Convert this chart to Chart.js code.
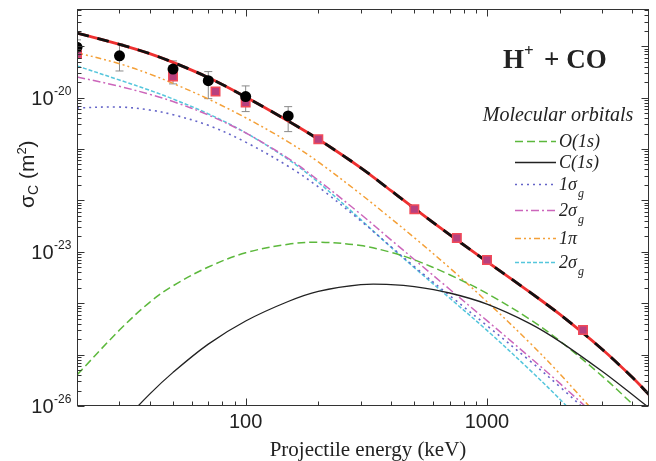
<!DOCTYPE html>
<html>
<head>
<meta charset="utf-8">
<script src="https://cdn.jsdelivr.net/npm/chart.js@4.4.0/dist/chart.umd.min.js"></script>
<style>
  html, body { margin: 0; padding: 0; background: #fff; }
</style>
</head>
<body>
<canvas id="chart" width="656" height="461"></canvas>
<script>
const energies = [20, 30, 40, 50, 70, 100, 150, 200, 300, 400, 500, 700, 1000, 1500, 2000, 3000, 4000, 4700];

const totalCS = [1.80e-19, 1.09e-19, 7.18e-20, 4.86e-20, 2.46e-20, 1.03e-20, 3.51e-21, 1.55e-21, 4.31e-22, 1.55e-22, 6.98e-23, 2.16e-23, 6.44e-24, 1.66e-24, 6.11e-25, 1.27e-25, 3.61e-26, 1.65e-26];
const o1s = [4.03e-26, 3.0e-25, 1.04e-24, 2.18e-24, 5.06e-24, 9.57e-24, 1.40e-23, 1.54e-23, 1.32e-23, 9.77e-24, 6.98e-24, 3.58e-24, 1.55e-24, 4.93e-25, 1.86e-25, 3.82e-26, 1.10e-26, 5.25e-27];
const c1s = [4.53e-28, 4.08e-27, 1.70e-26, 4.51e-26, 1.60e-25, 4.51e-25, 1.08e-24, 1.70e-24, 2.30e-24, 2.30e-24, 2.11e-24, 1.58e-24, 9.6e-25, 4.06e-25, 1.81e-25, 4.73e-26, 1.67e-26, 9.2e-27];
const s1g = [6.3e-21, 6.56e-21, 5.74e-21, 4.65e-21, 2.89e-21, 1.36e-21, 4.62e-22, 1.83e-22, 3.99e-23, 1.26e-23, 5.15e-24, 1.41e-24, 3.66e-25, 7.67e-26, 2.39e-26, 4.29e-27, null, null];
const s2g = [2.53e-20, 1.66e-20, 1.16e-20, 8.4e-21, 4.59e-21, 2.06e-21, 6.59e-22, 2.46e-22, 5.37e-23, 1.71e-23, 7.08e-24, 1.87e-24, 4.57e-25, 9.02e-26, 2.78e-26, 4.97e-27, null, null];
const pi1 = [7.5e-20, 4.57e-20, 2.88e-20, 1.89e-20, 9.4e-21, 4.06e-21, 1.38e-21, 5.6e-22, 1.32e-22, 4.45e-23, 1.88e-23, 4.89e-24, 1.07e-24, 1.72e-25, 4.27e-26, 5.2e-27, null, null];
const s2gb = [4.14e-20, 2.2e-20, 1.39e-20, 9.4e-21, 4.84e-21, 2.07e-21, 6.28e-22, 2.25e-22, 4.22e-23, 1.23e-23, 4.91e-24, 1.26e-24, 2.96e-25, 5.1e-26, 1.37e-26, 1.85e-27, null, null];

// measurements
const expEnergy = [20, 30, 50, 70, 100, 150];
const expSigma = [9.6e-20, 6.5e-20, 3.6e-20, 2.14e-20, 1.05e-20, 4.4e-21];
const expLow = [6.8e-20, 3.3e-20, 1.85e-20, 9.56e-21, 5.35e-21, 2.18e-21];
const expHigh = [1.33e-19, 1.11e-19, 5.18e-20, 3.21e-20, 1.69e-20, 6.68e-21];
const refEnergy = [20, 50, 75, 100, 200, 500, 750, 1000, 2500];
const refSigma = [7.08e-20, 2.57e-20, 1.31e-20, 8.0e-21, 1.55e-21, 6.74e-23, 1.86e-23, 6.95e-24, 3.02e-25];

const xTickLabels = [100, 1000];
const yTickExps = [-20, -23, -26];

const SANS = '"Liberation Sans", Arial, sans-serif';
const SERIF = '"Liberation Serif", "Times New Roman", serif';

function pts(xs, ys) {
  const out = [];
  xs.forEach((e, i) => { if (ys[i] != null) out.push({ x: e, y: ys[i] }); });
  return out;
}

function curve(key, data, color, dash, width, order) {
  return {
    key, data: pts(energies, data), borderColor: color, borderDash: dash,
    borderWidth: width, pointRadius: 0, fill: false, order, tension: 0.35
  };
}

const legendRows = [
  { key: 'o1s', text: 'O(1s)' },
  { key: 'c1s', text: 'C(1s)' },
  { key: 's1g', text: '1σ', sub: 'g' },
  { key: 's2g', text: '2σ', sub: 'g' },
  { key: 'pi1', text: '1π' },
  { key: 's2gb', text: '2σ', sub: 'g' }
];

const frame = {
  id: 'frame',
  beforeDatasetsDraw(chart) {
    const { ctx, chartArea: a, scales: { x, y } } = chart;
    ctx.save();
    ctx.beginPath();
    ctx.rect(a.left, a.top, a.right - a.left, a.bottom - a.top);
    ctx.clip();
    ctx.strokeStyle = '#8a8a8a';
    ctx.lineWidth = 1;
    expEnergy.forEach((e, i) => {
      const px = x.getPixelForValue(e);
      const y1 = y.getPixelForValue(expLow[i]);
      const y2 = y.getPixelForValue(expHigh[i]);
      ctx.beginPath();
      ctx.moveTo(px, y1); ctx.lineTo(px, y2);
      ctx.moveTo(px - 4, y1); ctx.lineTo(px + 4, y1);
      ctx.moveTo(px - 4, y2); ctx.lineTo(px + 4, y2);
      ctx.stroke();
    });
    ctx.restore();
  },
  afterDraw(chart) {
    const { ctx, chartArea: a, scales: { x, y } } = chart;
    const L = Math.round(a.left) + 0.5, R = Math.round(a.right) - 0.5;
    const T = Math.round(a.top) + 0.5, B = Math.round(a.bottom) - 0.5;
    ctx.save();
    ctx.strokeStyle = '#333';
    ctx.lineWidth = 1;
    ctx.strokeRect(L, T, R - L, B - T);
    ctx.beginPath();
    for (let k = 1; k <= 4; k++) {
      for (let m = 1; m <= 9; m++) {
        const v = m * Math.pow(10, k);
        if (v < x.min || v > x.max) continue;
        const px = Math.round(x.getPixelForValue(v)) + 0.5;
        const len = m === 1 ? 7 : 4;
        ctx.moveTo(px, B); ctx.lineTo(px, B - len);
        ctx.moveTo(px, T); ctx.lineTo(px, T + len);
      }
    }
    for (let k = -27; k <= -18; k++) {
      for (let m = 1; m <= 9; m++) {
        const v = m * Math.pow(10, k);
        if (v < y.min * 0.999 || v > y.max) continue;
        const py = Math.round(y.getPixelForValue(v)) + 0.5;
        const len = m === 1 ? 7 : 4;
        ctx.moveTo(L, py); ctx.lineTo(L + len, py);
        ctx.moveTo(R, py); ctx.lineTo(R - len, py);
      }
    }
    ctx.stroke();

    // tick labels
    ctx.fillStyle = '#222';
    ctx.font = '20px ' + SANS;
    ctx.textAlign = 'center';
    ctx.textBaseline = 'alphabetic';
    xTickLabels.forEach(v => ctx.fillText(String(v), x.getPixelForValue(v), 428));
    yTickExps.forEach(e => {
      const py = y.getPixelForValue(Math.pow(10, e));
      ctx.font = '20px ' + SANS;
      ctx.textAlign = 'right';
      ctx.fillText('10', 53.5, py + 7);
      ctx.font = '12px ' + SANS;
      ctx.textAlign = 'left';
      ctx.fillText('-' + Math.abs(e), 54, py - 3);
    });

    // axis titles
    ctx.font = '21px ' + SERIF;
    ctx.textAlign = 'center';
    ctx.fillText('Projectile energy (keV)', 368, 456);

    ctx.save();
    ctx.translate(34, 208);
    ctx.rotate(-Math.PI / 2);
    ctx.textAlign = 'left';
    let cx = 0;
    const put = (t, size, dy) => {
      ctx.font = size + 'px ' + SANS;
      ctx.fillText(t, cx, dy);
      cx += ctx.measureText(t).width;
    };
    put('σ', 21, 0);
    put('C', 14, 4);
    put(' (m', 21, 0);
    put('2', 13, -8);
    put(')', 21, 0);
    ctx.restore();

    // reaction label
    ctx.textAlign = 'left';
    ctx.font = 'bold 27px ' + SERIF;
    ctx.fillText('H', 503, 68);
    ctx.font = 'bold 17px ' + SERIF;
    ctx.fillText('+', 524, 56);
    ctx.font = 'bold 27px ' + SERIF;
    ctx.fillText('+ CO', 544, 68);

    // legend
    ctx.font = 'italic 20px ' + SERIF;
    ctx.textAlign = 'center';
    ctx.fillText('Molecular orbitals', 558, 121);
    const rowY = [141, 162, 184, 210, 238, 262];
    legendRows.forEach((r, i) => {
      const ds = chart.data.datasets.find(d => d.key === r.key);
      const ly = rowY[i] + 0.5;
      ctx.save();
      ctx.strokeStyle = ds.borderColor;
      ctx.lineWidth = ds.borderWidth;
      ctx.setLineDash(ds.borderDash || []);
      ctx.beginPath();
      ctx.moveTo(515, ly); ctx.lineTo(556, ly);
      ctx.stroke();
      ctx.restore();
      ctx.textAlign = 'left';
      ctx.font = 'italic 18px ' + SERIF;
      ctx.fillText(r.text, 559, rowY[i] + 6);
      if (r.sub) {
        const w = ctx.measureText(r.text).width;
        ctx.font = 'italic 12px ' + SERIF;
        ctx.fillText(r.sub, 559 + w + 1, rowY[i] + 13);
      }
    });
    ctx.restore();
  }
};

new Chart(document.getElementById('chart'), {
  type: 'line',
  data: {
    datasets: [
      {
        key: 'exp', data: pts(expEnergy, expSigma), showLine: false,
        pointStyle: 'circle', pointRadius: 5.5, pointBackgroundColor: '#000',
        pointBorderWidth: 0, order: 0
      },
      {
        key: 'ref', data: pts(refEnergy, refSigma), showLine: false,
        pointStyle: 'rect', pointRadius: 6, pointBackgroundColor: '#b8407e',
        pointBorderColor: '#f24a58', pointBorderWidth: 1.5, order: 1
      },
      curve('totalBlack', totalCS, '#111', [12, 9], 2.8, 2),
      curve('totalRed', totalCS, '#ee3030', [], 2.8, 3),
      curve('c1s', c1s, '#222', [], 1.3, 4),
      curve('o1s', o1s, '#5cb83c', [8, 4], 1.5, 5),
      curve('s1g', s1g, '#6464c8', [2, 4], 1.6, 6),
      curve('s2g', s2g, '#cc66bb', [8, 3, 2, 3], 1.5, 7),
      curve('pi1', pi1, '#f4a038', [6, 3, 2, 3, 2, 3], 1.5, 8),
      curve('s2gb', s2gb, '#55c6dc', [4, 2], 1.5, 9)
    ]
  },
  options: {
    responsive: false,
    animation: false,
    layout: { padding: { top: 9, right: 6, left: 0, bottom: 0 } },
    plugins: { legend: { display: false }, tooltip: { enabled: false } },
    scales: {
      x: {
        type: 'logarithmic', min: 20, max: 4670,
        ticks: { display: false }, grid: { display: false }, border: { display: false },
        afterFit(s) { s.height = 55; }
      },
      y: {
        type: 'logarithmic', min: 1e-26, max: 5.3e-19,
        ticks: { display: false }, grid: { display: false }, border: { display: false },
        afterFit(s) { s.width = 77; }
      }
    }
  },
  plugins: [frame]
});
</script>
</body>
</html>
